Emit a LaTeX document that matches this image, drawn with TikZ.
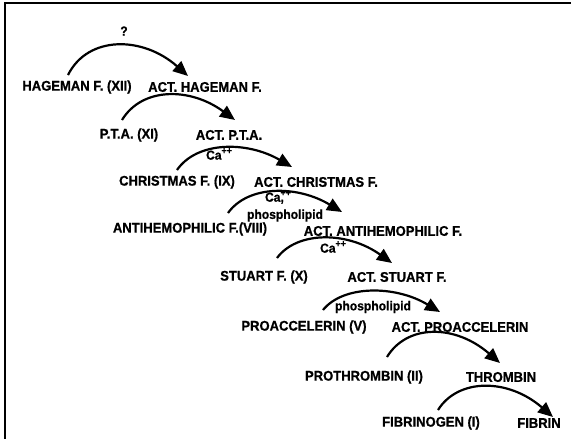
\documentclass[tikz,border=0pt]{standalone}
\usepackage{fontspec}
\setmainfont[FakeStretch=0.93,FakeBold=0.8]{Liberation Sans}
\usetikzlibrary{arrows.meta}
\newcommand{\pp}{\raisebox{0.45em}{\fontsize{9.5}{9.5}\selectfont ++}}
\tikzset{
  lab/.style={font=\bfseries\fontsize{14}{14}\selectfont, inner sep=0pt, anchor=center},
  cof/.style={font=\bfseries\fontsize{13}{13}\selectfont, inner sep=0pt, anchor=center},
  arc/.style={line width=2.2pt, -{Triangle[length=15pt,width=13pt]}},
  frame/.style={line width=2pt}
}
\begin{document}
\begin{tikzpicture}[x=1pt,y=-1pt]
\useasboundingbox (0,0) rectangle (571,439);
\coordinate (fa) at (5,439);
\coordinate (fb) at (5,3);
\coordinate (fc) at (571,3);
\draw[frame] (fa) -- (fb) -- (fc);

% text nodes
\node[lab] (h)  at (77,87)  {HAGEMAN F. (XII)};
\node[lab] (ah) at (205,87) {ACT.\ HAGEMAN F.};
\node[lab] (p)  at (129,135) {P.T.A. (XI)};
\node[lab] (ap) at (229,135) {ACT.\ P.T.A.};
\node[lab] (c)  at (177,182) {CHRISTMAS F. (IX)};
\node[lab] (ac) at (316,182) {ACT.\ CHRISTMAS F.};
\node[lab] (an) at (190,229) {ANTIHEMOPHILIC F.(VIII)};
\node[lab] (aan) at (383,231) {ACT.\ ANTIHEMOPHILIC F.};
\node[lab] (s)  at (264,277) {STUART F. (X)};
\node[lab] (as) at (397,277) {ACT.\ STUART F.};
\node[lab] (pr) at (304,327) {PROACCELERIN (V)};
\node[lab] (apr) at (460,327) {ACT. PROACCELERIN};
\node[lab] (pt) at (364,377) {PROTHROMBIN (II)};
\node[lab] (t)  at (501,377) {THROMBIN};
\node[lab] (fg) at (431,423) {FIBRINOGEN (I)};
\node[lab] (f)  at (539,423) {FIBRIN};

% cofactor labels
\node[cof] (q)  at (124,31) {?};
\node[cof] (ca1) at (219,154) {Ca\pp};
\node[cof] (ca2) at (278,197) {Ca,\kern-0.25em\pp};
\node[cof] (ph1) at (285,215.5) {phospholipid};
\node[cof] (ca3) at (333,247) {Ca\pp};
\node[cof] (ph2) at (373,307) {phospholipid};

% arc endpoints
\coordinate (s1) at (68,75);   \coordinate (e1) at (188,76);
\coordinate (s2) at (122,120); \coordinate (e2) at (235,120);
\coordinate (s3) at (177,170); \coordinate (e3) at (292,167);
\coordinate (s4) at (228,213); \coordinate (e4) at (342,212);
\coordinate (s5) at (277,258); \coordinate (e5) at (392,263);
\coordinate (s6) at (323,310); \coordinate (e6) at (440,312);
\coordinate (s7) at (387,357); \coordinate (e7) at (500,363);
\coordinate (s8) at (438,410); \coordinate (e8) at (553,417);

\draw[arc] (s1) .. controls +(20,-40) and +(-45,-40) .. (e1);
\draw[arc] (s2) .. controls +(20,-33) and +(-45,-33) .. (e2);
\draw[arc] (s3) .. controls +(20,-29) and +(-45,-26) .. (e3);
\draw[arc] (s4) .. controls +(20,-28) and +(-45,-27) .. (e4);
\draw[arc] (s5) .. controls +(20,-27) and +(-45,-32) .. (e5);
\draw[arc] (s6) .. controls +(20,-25) and +(-45,-27) .. (e6);
\draw[arc] (s7) .. controls +(20,-33) and +(-45,-39) .. (e7);
\draw[arc] (s8) .. controls +(20,-32) and +(-45,-39) .. (e8);
\end{tikzpicture}
\end{document}
